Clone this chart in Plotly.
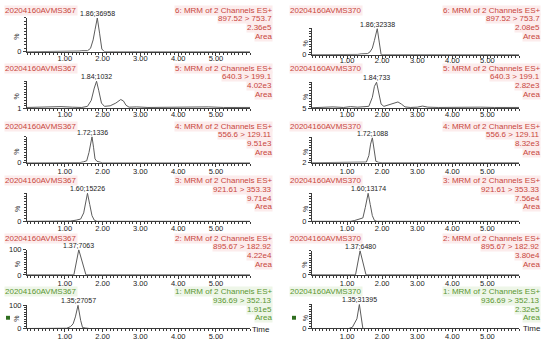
import plotly.graph_objects as go

W, H = 550, 352

# ---------------- data (time in min, intensity in %) ----------------
# left column: sample 20204160AVMS367
L6_t = [0.0, 0.5, 1.0, 1.3, 1.38, 1.45, 1.52, 1.6, 1.68, 1.75, 1.8, 1.86, 1.92, 1.98, 2.05, 3.0, 4.0, 5.0, 5.9]
L6_y = [0, 0, 0, 0.5, 2, 3, 2, 3, 10, 35, 65, 100, 55, 8, 0, 0, 0, 0, 0]
L5_t = [0.0, 0.3, 0.6, 0.9, 1.2, 1.45, 1.6, 1.7, 1.78, 1.84, 1.9, 1.97, 2.05, 2.2, 2.35, 2.48, 2.55, 2.62, 2.7, 2.9, 3.2, 3.6, 4.0, 4.4, 4.8, 5.2, 5.6, 5.9]
L5_y = [4, 5, 6, 7, 5, 4, 8, 30, 75, 100, 65, 20, 8, 10, 20, 33, 28, 12, 5, 6, 4, 5, 4, 5, 6, 4, 5, 4]
L4_t = [0.0, 1.0, 1.4, 1.5, 1.58, 1.64, 1.68, 1.72, 1.76, 1.8, 1.85, 1.92, 2.0, 5.9]
L4_y = [0, 0, 1, 4, 8, 40, 80, 100, 60, 15, 6, 3, 0, 0]
L3_t = [0.0, 1.0, 1.15, 1.3, 1.42, 1.5, 1.55, 1.6, 1.66, 1.72, 1.78, 1.85, 5.9]
L3_y = [0, 0, 1, 4, 8, 30, 70, 100, 60, 20, 4, 0, 0]
L2_t = [0.0, 1.0, 1.24, 1.37, 1.56, 2.0, 5.9]
L2_y = [0, 0, 0, 100, 0, 0, 0]
L1_t = [0.0, 0.9, 1.05, 1.15, 1.22, 1.28, 1.35, 1.42, 1.47, 1.55, 1.65, 5.9]
L1_y = [0, 0, 1, 8, 20, 50, 100, 35, 4, 2, 0, 0]

# right column: sample 20204160AVMS370
R6_t = [0.0, 1.0, 1.3, 1.4, 1.5, 1.58, 1.65, 1.72, 1.78, 1.86, 1.92, 1.97, 2.05, 5.9]
R6_y = [0, 0, 1, 3, 2, 4, 10, 25, 55, 100, 45, 0, 0, 0]
R5_t = [0.0, 0.3, 0.6, 0.9, 1.1, 1.3, 1.5, 1.62, 1.72, 1.78, 1.84, 1.9, 1.97, 2.05, 2.2, 2.35, 2.45, 2.55, 2.65, 2.8, 3.0, 3.15, 3.3, 3.6, 4.0, 4.4, 4.8, 5.2, 5.6, 5.9]
R5_y = [7, 8, 10, 8, 11, 9, 10, 12, 45, 85, 100, 60, 20, 12, 18, 25, 28, 20, 10, 8, 9, 13, 9, 8, 9, 8, 9, 8, 9, 8]
R4_t = [0.0, 0.8, 0.95, 1.05, 1.15, 1.4, 1.55, 1.62, 1.67, 1.72, 1.77, 1.82, 1.9, 2.0, 5.9]
R4_y = [2.5, 2.5, 4, 4, 2.5, 2.5, 5, 30, 75, 100, 45, 8, 4, 2.5, 2.5]
R3_t = [0.0, 1.1, 1.22, 1.35, 1.45, 1.52, 1.6, 1.66, 1.72, 1.78, 1.85, 5.9]
R3_y = [0, 0, 3, 8, 12, 50, 100, 60, 20, 3, 0, 0]
R2_t = [0.0, 0.6, 0.75, 0.9, 1.1, 1.24, 1.37, 1.54, 2.0, 5.9]
R2_y = [0, 1, 2, 1, 0, 0, 100, 0, 0, 0]
R1_t = [0.0, 1.05, 1.15, 1.23, 1.28, 1.35, 1.4, 1.45, 1.55, 5.9]
R1_y = [0, 0, 5, 25, 40, 100, 40, 0, 0, 0]

samples = ["20204160AVMS367", "20204160AVMS370"]
channels = ["6: MRM of 2 Channels ES+", "5: MRM of 2 Channels ES+", "4: MRM of 2 Channels ES+",
            "3: MRM of 2 Channels ES+", "2: MRM of 2 Channels ES+", "1: MRM of 2 Channels ES+"]
transitions = ["897.52 > 753.7", "640.3 > 199.1", "556.6 > 129.11",
               "921.61 > 353.33", "895.67 > 182.92", "936.69 > 352.13"]
areas_left = ["2.36e5", "4.02e3", "9.51e3", "9.71e4", "4.22e4", "1.91e5"]
areas_right = ["2.08e5", "2.82e3", "8.32e3", "7.56e4", "3.80e4", "2.32e5"]
peak_times = [1.86, 1.84, 1.72, 1.60, 1.37, 1.35]
peak_left = ["1.86;36958", "1.84;1032", "1.72;1336", "1.60;15226", "1.37;7063", "1.35;27057"]
peak_right = ["1.86;32338", "1.84;733", "1.72;1088", "1.60;13174", "1.37;6480", "1.35;31395"]
ymin_left = [0, 1, 0, 0, 0, 0]
ymin_right = [0, 5, 2, 0, 0, 0]
x_ticks = [1, 2, 3, 4, 5]
x_ticktext = ["1.00", "2.00", "3.00", "4.00", "5.00"]

left_series = [(L6_t, L6_y), (L5_t, L5_y), (L4_t, L4_y), (L3_t, L3_y), (L2_t, L2_y), (L1_t, L1_y)]
right_series = [(R6_t, R6_y), (R5_t, R5_y), (R4_t, R4_y), (R3_t, R3_y), (R2_t, R2_y), (R1_t, R1_y)]

# ---------------- layout geometry (pixels) ----------------
left_rows = [(14, 49), (79, 107), (136, 163), (194, 223), (252, 278), (309, 333)]
right_rows = [(25, 52), (80, 107), (137, 163), (194, 223), (253, 278), (308, 333)]
title_y = [6.5, 66, 125.5, 181.5, 240.5, 295.5]
standoff_left = [-4, -4, -2, -3, -2, -2]
standoff_right = [-5, -4, -2, -3, -2, -2]
cols = {
    0: dict(x0=27, x1=250, title_x=4, text_right=273, pct_x=17),
    1: dict(x0=312, x1=519, title_x=289, text_right=541, pct_x=305),
}

RED = "#c8463c"
RED_BG = "#fcecec"
GREEN = "#5a9632"
GREEN_BG = "#eef6e8"
FONT = "Liberation Sans, Arial, sans-serif"


def fx(p):
    return p / W


def fy(p):
    return 1 - p / H


fig = go.Figure()
layout = {}
annotations = []
n = 0
for c in (0, 1):
    series = left_series if c == 0 else right_series
    rows = left_rows if c == 0 else right_rows
    areas = areas_left if c == 0 else areas_right
    peaks = peak_left if c == 0 else peak_right
    ymins = ymin_left if c == 0 else ymin_right
    standoff = standoff_left if c == 0 else standoff_right
    g = cols[c]
    for r in range(6):
        n += 1
        xa = "x" if n == 1 else f"x{n}"
        ya = "y" if n == 1 else f"y{n}"
        t, y = series[r]
        fig.add_trace(go.Scatter(x=t, y=y, mode="lines", line=dict(color="#5c5c5c", width=1),
                                 xaxis=xa, yaxis=ya, showlegend=False, hoverinfo="skip"))
        top, base = rows[r]
        ymin = ymins[r]
        tv = [ymin]
        tt = [str(ymin)]
        if c == 0 and r >= 4:
            tv.append(100)
            tt.append("100")
        layout["xaxis" if n == 1 else f"xaxis{n}"] = dict(
            domain=[fx(g["x0"]), fx(g["x1"])], anchor=ya, range=[0, 5.9],
            showline=True, linecolor="#3a3a3a", linewidth=1, ticks="outside", ticklen=3,
            tickcolor="#3a3a3a", tickmode="array", tickvals=x_ticks, ticktext=x_ticktext,
            ticklabelstandoff=standoff[r],
            tickfont=dict(size=7.5, color="#222", family=FONT), showgrid=False, zeroline=False,
            minor=dict(tickmode="linear", tick0=0, dtick=0.1, ticklen=2, tickcolor="#3a3a3a", showgrid=False),
        )
        layout["yaxis" if n == 1 else f"yaxis{n}"] = dict(
            domain=[fy(base), fy(top)], anchor=xa, range=[ymin, 101],
            showline=True, linecolor="#3a3a3a", linewidth=1, ticks="outside", ticklen=3,
            tickcolor="#3a3a3a", tickmode="array", tickvals=tv, ticktext=tt,
            tickfont=dict(size=7.5, color="#222", family=FONT), showgrid=False, zeroline=False,
            minor=dict(tickmode="linear", tick0=0, dtick=10, ticklen=2, tickcolor="#3a3a3a", showgrid=False),
        )
        col = GREEN if r == 5 else RED
        bg = GREEN_BG if r == 5 else RED_BG
        ty = title_y[r]
        annotations.append(dict(text=samples[c], x=fx(g["title_x"]), y=fy(ty), xref="paper", yref="paper",
                                xanchor="left", yanchor="middle", showarrow=False, bgcolor=bg, borderpad=0,
                                font=dict(size=8, color=col, family=FONT)))
        lines = [channels[r], transitions[r], areas[r], "Area"]
        for k, txt in enumerate(lines):
            annotations.append(dict(text=txt, x=fx(g["text_right"]), y=fy(ty + 8.8 * k), xref="paper",
                                    yref="paper", xanchor="right", yanchor="middle", showarrow=False,
                                    bgcolor=bg, borderpad=0, font=dict(size=8, color=col, family=FONT)))
        annotations.append(dict(text=peaks[r], x=peak_times[r], y=100, xref=xa, yref=ya,
                                xanchor="center", yanchor="bottom", showarrow=False, yshift=-1,
                                font=dict(size=7, color="#222", family=FONT)))
        annotations.append(dict(text="%", x=fx(g["pct_x"]), y=fy((top + base) / 2 + 2), xref="paper",
                                yref="paper", xanchor="center", yanchor="middle", showarrow=False,
                                textangle=-90, font=dict(size=7, color="#333", family=FONT)))

annotations.append(dict(text="Time", x=fx(261), y=fy(334), xref="paper", yref="paper", showarrow=False,
                        xanchor="center", yanchor="middle", font=dict(size=8, color="#222", family=FONT)))
annotations.append(dict(text="Time", x=fx(532), y=fy(333), xref="paper", yref="paper", showarrow=False,
                        xanchor="center", yanchor="middle", font=dict(size=8, color="#222", family=FONT)))

shapes = [
    dict(type="rect", xref="paper", yref="paper", x0=fx(6), x1=fx(10), y0=fy(324), y1=fy(320),
         fillcolor="#2f6e1f", line=dict(width=0)),
    dict(type="rect", xref="paper", yref="paper", x0=fx(292), x1=fx(296), y0=fy(324), y1=fy(320),
         fillcolor="#2f6e1f", line=dict(width=0)),
]

fig.update_layout(width=W, height=H, margin=dict(l=0, r=0, t=0, b=0), paper_bgcolor="white",
                  plot_bgcolor="white", annotations=annotations, shapes=shapes,
                  font=dict(family=FONT), **layout)
fig.write_html("out.html", config={"displayModeBar": False, "staticPlot": True},
               post_script="document.body.style.margin='0';document.body.style.overflow='hidden';"
                           "document.body.style.userSelect='none';")
